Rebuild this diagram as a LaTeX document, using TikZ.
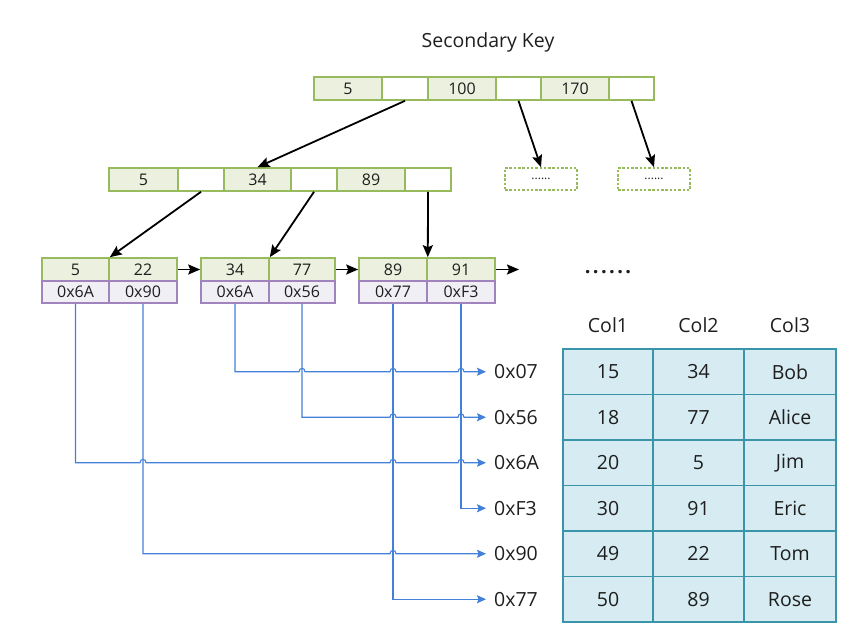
\documentclass[tikz,border=0pt]{standalone}
\usepackage{fontspec}
\setmainfont{Open Sans}
\usetikzlibrary{arrows.meta,calc}
\definecolor{gborder}{RGB}{150,186,92}
\definecolor{gfill}{RGB}{235,241,222}
\definecolor{pborder}{RGB}{160,132,190}
\definecolor{pfill}{RGB}{241,239,246}
\definecolor{tborder}{RGB}{58,148,170}
\definecolor{tfill}{RGB}{214,236,242}
\definecolor{bline}{RGB}{66,128,218}
\definecolor{txt}{RGB}{30,30,30}
\tikzset{
  cellbase/.style={line width=1.6pt, inner sep=0pt, minimum height=23pt, text=txt, font=\fontsize{16}{19}\selectfont},
  kcell/.style={cellbase, draw=gborder, fill=gfill},
  ecell/.style={cellbase, draw=gborder, fill=white},
  pcell/.style={cellbase, draw=pborder, fill=pfill, minimum height=22pt},
  dbox/.style={draw=gborder, fill=white, line width=1.6pt, dash pattern=on 2.5pt off 1.8pt, minimum width=72pt, minimum height=22pt, inner sep=0pt, text=txt, font=\fontsize{12}{14}\selectfont},
  arr/.style={-{Stealth[length=12pt,width=10pt,inset=2pt]}, line width=1.8pt, black},
  blu/.style={-{Stealth[length=9pt,width=8pt,inset=1.5pt]}, draw=bline, line width=1.1pt},
  tcell/.style={draw=tborder, fill=tfill, line width=1.6pt, minimum height=45.5pt, inner sep=0pt, text=txt, font=\fontsize{19.5}{23}\selectfont},
  lbl/.style={anchor=west, inner xsep=8pt, inner ysep=2pt, text=txt, font=\fontsize{19.5}{23}\selectfont},
  hdr/.style={text=txt, font=\fontsize{19.5}{23}\selectfont},
  hop/.style 2 args={insert path={-- (#1-3,#2) .. controls (#1-3,#2-4.5) and (#1+3,#2-4.5) .. (#1+3,#2)}}
}
\begin{document}
\begin{tikzpicture}[x=1pt,y=-1pt]
\useasboundingbox (0,0) rectangle (845,623);

\node[hdr] (title) at (488,42) {Secondary Key};

% root
\node[kcell, minimum width=68pt] (r1) at (348,88.5) {5};
\node[ecell, minimum width=46pt] (r2) at (405,88.5) {};
\node[kcell, minimum width=68pt] (r3) at (462,88.5) {100};
\node[ecell, minimum width=45pt] (r4) at (518.5,88.5) {};
\node[kcell, minimum width=68pt] (r5) at (575,88.5) {170};
\node[ecell, minimum width=45pt] (r6) at (631.5,88.5) {};

% level 2
\node[kcell, minimum width=69pt] (m1) at (143.5,179.5) {5};
\node[ecell, minimum width=46pt] (m2) at (201,179.5) {};
\node[kcell, minimum width=67pt] (m3) at (257.5,179.5) {34};
\node[ecell, minimum width=46pt] (m4) at (314,179.5) {};
\node[kcell, minimum width=68pt] (m5) at (371,179.5) {89};
\node[ecell, minimum width=46pt] (m6) at (428,179.5) {};

\node[dbox] (d1) at (541,179) {......};
\node[dbox] (d2) at (654,179) {......};

% leaves
\node[kcell, minimum width=67pt] (l1a) at (75.5,269.5) {5};
\node[kcell, minimum width=68pt] (l1b) at (143,269.5) {22};
\node[pcell, minimum width=67pt] (l1p) at (75.5,292) {0x6A};
\node[pcell, minimum width=68pt] (l1q) at (143,292) {0x90};

\node[kcell, minimum width=68pt] (l2a) at (235,269.5) {34};
\node[kcell, minimum width=66pt] (l2b) at (302,269.5) {77};
\node[pcell, minimum width=68pt] (l2p) at (235,292) {0x6A};
\node[pcell, minimum width=66pt] (l2q) at (302,292) {0x56};

\node[kcell, minimum width=68pt] (l3a) at (393,269.5) {89};
\node[kcell, minimum width=68pt] (l3b) at (461,269.5) {91};
\node[pcell, minimum width=68pt] (l3p) at (393,292) {0x77};
\node[pcell, minimum width=68pt] (l3q) at (461,292) {0xF3};

\coordinate (lend) at (519,269.5);
\node[text=txt, font=\fontsize{20}{22}\selectfont\bfseries\addfontfeatures{LetterSpace=12}] (more) at (608,272) {......};

% tree arrows
\draw[arr] (r2.south) -- (m3.north);
\draw[arr] (r4.south) -- (d1.north);
\draw[arr] (r6.south) -- (d2.north);
\draw[arr] (m2.south) -- (l1a.north east);
\draw[arr] (m4.south) -- (l2a.north east);
\draw[arr] (m6.south) -- (l3a.north east);
\draw[arr] (l1b.east) -- (l2a.west);
\draw[arr] (l2b.east) -- (l3a.west);
\draw[arr] (l3b.east) -- (lend);

% table
\node[hdr] (h1) at (608,325) {Col1};
\node[hdr] (h2) at (698.5,325) {Col2};
\node[hdr] (h3) at (790,325) {Col3};

\foreach \r/\y/\a/\b/\c in {1/371.75/15/34/Bob, 2/417.25/18/77/Alice, 3/462.75/20/5/Jim, 4/508.25/30/91/Eric, 5/553.75/49/22/Tom, 6/599.25/50/89/Rose}{
  \node[tcell, minimum width=90pt] (c\r a) at (608,\y) {\a};
  \node[tcell, minimum width=91pt] (c\r b) at (698.5,\y) {\b};
  \node[tcell, minimum width=92pt] (c\r c) at (790,\y) {\c};
}

% address labels
\node[lbl] (t1) at (486,371.75) {0x07};
\node[lbl] (t2) at (486,417.25) {0x56};
\node[lbl] (t3) at (486,462.75) {0x6A};
\node[lbl] (t4) at (486,508.25) {0xF3};
\node[lbl] (t5) at (486,553.75) {0x90};
\node[lbl] (t6) at (486,599.25) {0x77};

% pointer lines
\draw[blu] (l2p.south) -- (l2p.south |- t1.west) [hop={302}{371.75}] [hop={393}{371.75}] [hop={461}{371.75}] -- (t1.west);
\draw[blu] (l2q.south) -- (l2q.south |- t2.west) [hop={393}{417.25}] [hop={461}{417.25}] -- (t2.west);
\draw[blu] (l1p.south) -- (l1p.south |- t3.west) [hop={143}{462.75}] [hop={393}{462.75}] [hop={461}{462.75}] -- (t3.west);
\draw[blu] (l3q.south) |- (t4.west);
\draw[blu] (l1q.south) -- (l1q.south |- t5.west) [hop={393}{553.75}] -- (t5.west);
\draw[blu] (l3p.south) |- (t6.west);
\end{tikzpicture}
\end{document}
